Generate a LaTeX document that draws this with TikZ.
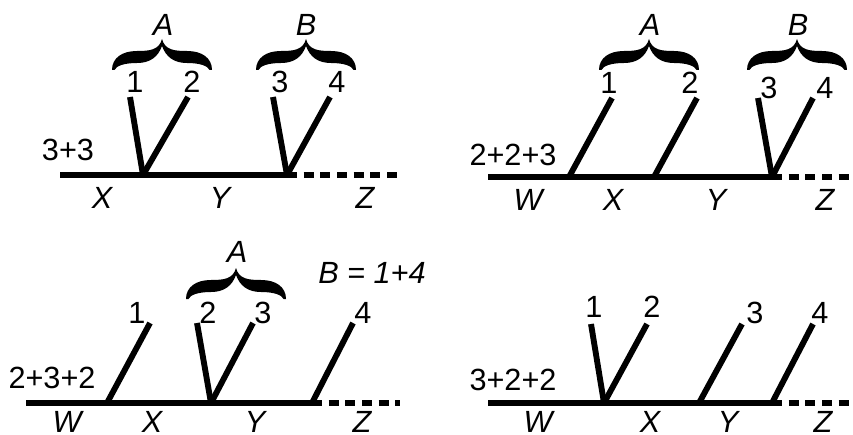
\documentclass[tikz,border=0pt]{standalone}
\usepackage{fontspec}
\setmainfont{Liberation Sans}
\usetikzlibrary{positioning}

\begin{document}
\begin{tikzpicture}[x=0.75pt,y=-0.75pt]
\tikzset{
  trunk/.style={line width=4.4pt},
  tail/.style={line width=4.4pt,dash pattern=on 7.5pt off 5pt},
  leg/.style={line width=4.4pt},
  lbl/.style={inner sep=0pt,font=\fontsize{23}{27}\selectfont},
  seg/.style={lbl,font=\fontsize{23}{27}\selectfont\itshape},
  grp/.pic={
    \fill (0,0) .. controls (0,-12) and (10,-19) .. (25,-19) .. controls (38,-19) and (47,-20) .. (50,-31)
      .. controls (53,-20) and (62,-19) .. (75,-19) .. controls (90,-19) and (100,-12) .. (100,0)
      -- (97.5,0) .. controls (96,-4) and (88,-7) .. (75,-7) .. controls (62,-7) and (54,-13) .. (50,-24)
      .. controls (46,-13) and (38,-7) .. (25,-7) .. controls (12,-7) and (4,-4) .. (2.5,0) -- cycle;
  }
}
\useasboundingbox (0,0) rectangle (853,435);

% top left: 3+3
\coordinate (a0) at (60,175);
\coordinate (av1) at (143,175);
\coordinate (av2) at (287,175);
\coordinate (aend) at (402,175);
\coordinate (at1) at (130,97);
\coordinate (at2) at (188,97);
\coordinate (at3) at (273,97);
\coordinate (at4) at (330,97);
\draw[trunk] (a0) -- (av2);
\draw[tail] (av2) -- (aend);
\draw[leg] (av1) -- (at1);
\draw[leg] (av1) -- (at2);
\draw[leg] (av2) -- (at3);
\draw[leg] (av2) -- (at4);
\node[lbl] (an1) at (135,82) {1};
\node[lbl] (an2) at (192,82) {2};
\node[lbl] (an3) at (280,82) {3};
\node[lbl] (an4) at (337,82) {4};
\pic at (112,70) {grp};
\pic at (256,70) {grp};
\node[seg] (aA) at (163,25) {A};
\node[seg] (aB) at (306,25) {B};
\node[lbl] (asum) at (68,150) {3+3};
\node[seg] (aX) at (102,198) {X};
\node[seg] (aY) at (220,198) {Y};
\node[seg] (aZ) at (365,198) {Z};

% top right: 2+2+3
\coordinate (b0) at (488,177);
\coordinate (bv1) at (569,177);
\coordinate (bv2) at (654,177);
\coordinate (bv3) at (772,177);
\coordinate (bend) at (850,177);
\coordinate (bt1) at (612,98);
\coordinate (bt2) at (697,98);
\coordinate (bt3) at (758,98);
\coordinate (bt4) at (813,98);
\draw[trunk] (b0) -- (bv3);
\draw[tail] (bv3) -- (bend);
\draw[leg] (bv1) -- (bt1);
\draw[leg] (bv2) -- (bt2);
\draw[leg] (bv3) -- (bt3);
\draw[leg] (bv3) -- (bt4);
\node[lbl] (bn1) at (609,83) {1};
\node[lbl] (bn2) at (690,83) {2};
\node[lbl] (bn3) at (769,88) {3};
\node[lbl] (bn4) at (825,88) {4};
\pic at (599,70) {grp};
\pic at (747,70) {grp};
\node[seg] (bA) at (650,25) {A};
\node[seg] (bB) at (798,25) {B};
\node[lbl] (bsum) at (513,155) {2+2+3};
\node[seg] (bW) at (528,200) {W};
\node[seg] (bX) at (613,200) {X};
\node[seg] (bY) at (716,200) {Y};
\node[seg] (bZ) at (825,200) {Z};

% bottom left: 2+3+2
\coordinate (c0) at (26,403);
\coordinate (cv1) at (107,403);
\coordinate (cv2) at (211,403);
\coordinate (cv3) at (312,403);
\coordinate (cend) at (400,403);
\coordinate (ct1) at (150,323);
\coordinate (ct2) at (197,323);
\coordinate (ct3) at (253,323);
\coordinate (ct4) at (353,323);
\draw[trunk] (c0) -- (cv3);
\draw[tail] (cv3) -- (cend);
\draw[leg] (cv1) -- (ct1);
\draw[leg] (cv2) -- (ct2);
\draw[leg] (cv2) -- (ct3);
\draw[leg] (cv3) -- (ct4);
\node[lbl] (cn1) at (137,313) {1};
\node[lbl] (cn2) at (208,313) {2};
\node[lbl] (cn3) at (263,313) {3};
\node[lbl] (cn4) at (363,313) {4};
\pic at (186,299) {grp};
\node[seg] (cA) at (237,252) {A};
\node[seg] (cB) at (372,273) {B = 1+4};
\node[lbl] (csum) at (52,378) {2+3+2};
\node[seg] (cW) at (67,422) {W};
\node[seg] (cX) at (152,422) {X};
\node[seg] (cY) at (255,422) {Y};
\node[seg] (cZ) at (362,422) {Z};

% bottom right: 3+2+2
\coordinate (d0) at (488,403);
\coordinate (dv1) at (604,403);
\coordinate (dv2) at (699,403);
\coordinate (dv3) at (772,403);
\coordinate (dend) at (850,403);
\coordinate (dt1) at (591,324);
\coordinate (dt2) at (647,324);
\coordinate (dt3) at (742,324);
\coordinate (dt4) at (813,324);
\draw[trunk] (d0) -- (dv3);
\draw[tail] (dv3) -- (dend);
\draw[leg] (dv1) -- (dt1);
\draw[leg] (dv1) -- (dt2);
\draw[leg] (dv2) -- (dt3);
\draw[leg] (dv3) -- (dt4);
\node[lbl] (dn1) at (594,307) {1};
\node[lbl] (dn2) at (652,307) {2};
\node[lbl] (dn3) at (755,313) {3};
\node[lbl] (dn4) at (820,313) {4};
\node[lbl] (dsum) at (513,380) {3+2+2};
\node[seg] (dW) at (538,422) {W};
\node[seg] (dX) at (650,422) {X};
\node[seg] (dY) at (728,422) {Y};
\node[seg] (dZ) at (823,422) {Z};
\end{tikzpicture}
\end{document}
